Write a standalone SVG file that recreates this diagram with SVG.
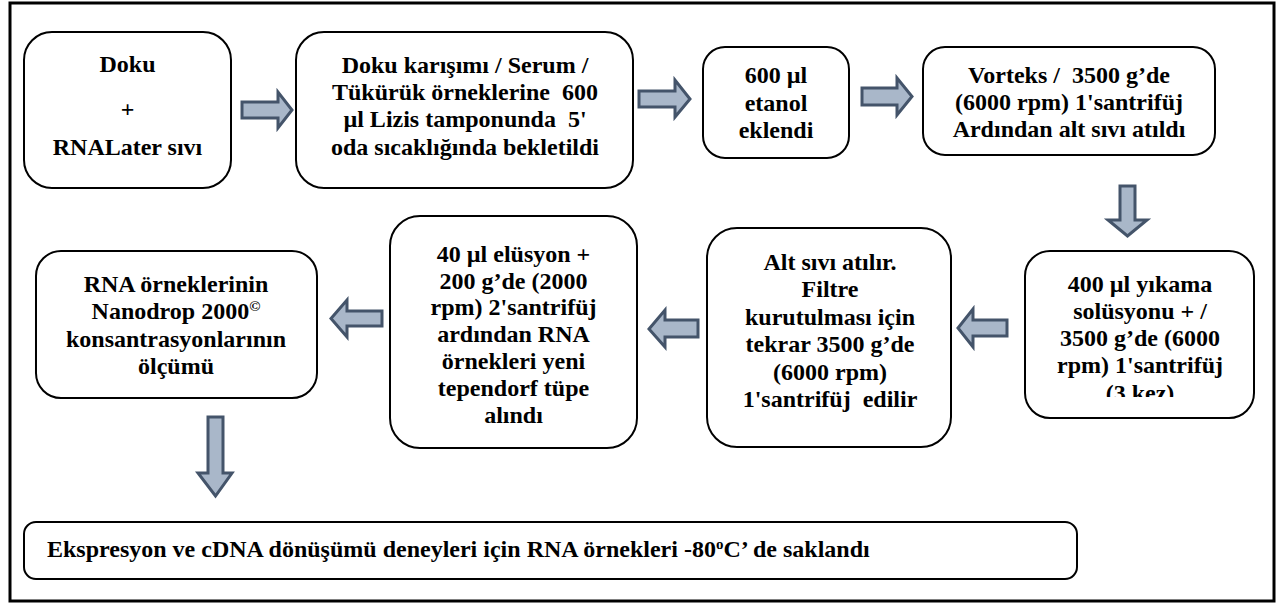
<svg xmlns="http://www.w3.org/2000/svg" width="1279" height="606" viewBox="0 0 1279 606">
<style>
.box{fill:#fff;stroke:#000;stroke-width:2}
.arr{fill:#A9B7C9;stroke:#44546A;stroke-width:3;stroke-linejoin:miter}
text{font-family:'Liberation Serif',Tinos,'Times New Roman',Times,serif;font-weight:bold;font-size:24px;fill:#000;white-space:pre}
.c{text-anchor:middle}
</style>
<defs>
<clipPath id="clip5"><rect x="1025" y="251" width="229" height="146"/></clipPath>
</defs>
<rect x="10" y="3" width="1264" height="598" fill="#fff" stroke="#000" stroke-width="3"/>
<g id="connectors">
<polygon class="arr" points="242,102 278,102 278,92 292,110 278,128 278,118 242,118"/>
<polygon class="arr" points="639,91 675,91 675,80 690,99 675,117 675,107 639,107"/>
<polygon class="arr" points="862,88 897,88 897,78 912,96.5 897,115 897,105 862,105"/>
<polygon class="arr" points="1120,186 1135,186 1135,220 1147,220 1127.5,236 1108,220 1120,220"/>
<polygon class="arr" points="1007,320 973,320 973,309 958,328 973,347 973,336 1007,336"/>
<polygon class="arr" points="698,320 665,320 665,310 649,329 665,347 665,337 698,337"/>
<polygon class="arr" points="382,311 347,311 347,300 331,318.5 347,337 347,326 382,326"/>
<polygon class="arr" points="208,417 223,417 223,473 232,473 215.5,496 198,473 208,473"/>
</g>
<g id="n1">
<rect class="box" x="24" y="32" width="207" height="156" rx="28"/>
<text class="c" x="127.5" y="72">Doku</text>
<text class="c" x="127.5" y="117" font-weight="normal">+</text>
<text class="c" x="127.5" y="155">RNALater sıvı</text>
</g>
<g id="n2">
<rect class="box" x="296" y="32" width="337" height="156" rx="28"/>
<text class="c" x="465" y="73">Doku karışımı / Serum /</text>
<text class="c" x="465" y="100">Tükürük örneklerine  600</text>
<text class="c" x="465" y="127">µl Lizis tamponunda  5'</text>
<text class="c" x="465" y="155">oda sıcaklığında bekletildi</text>
</g>
<g id="n3">
<rect class="box" x="703" y="47" width="146" height="111" rx="22"/>
<text class="c" x="776" y="83">600 µl</text>
<text class="c" x="776" y="111">etanol</text>
<text class="c" x="776" y="138">eklendi</text>
</g>
<g id="n4">
<rect class="box" x="923" y="47" width="292" height="108" rx="22"/>
<text class="c" x="1069" y="83">Vorteks /  3500 g’de</text>
<text class="c" x="1069" y="110">(6000 rpm) 1'santrifüj</text>
<text class="c" x="1069" y="137">Ardından alt sıvı atıldı</text>
</g>
<g id="n5">
<rect class="box" x="1025" y="251" width="229" height="167" rx="25"/>
<g clip-path="url(#clip5)">
<text class="c" x="1140" y="292">400 µl yıkama</text>
<text class="c" x="1140" y="319">solüsyonu + /</text>
<text class="c" x="1140" y="346">3500 g’de (6000</text>
<text class="c" x="1140" y="373">rpm) 1'santrifüj</text>
<text class="c" x="1140" y="401">(3 kez)</text>
</g>
</g>
<g id="n6">
<rect class="box" x="707" y="228" width="244" height="219" rx="30"/>
<text class="c" x="830" y="270">Alt sıvı atılır.</text>
<text class="c" x="830" y="297">Filtre</text>
<text class="c" x="830" y="325">kurutulması için</text>
<text class="c" x="830" y="352">tekrar 3500 g’de</text>
<text class="c" x="830" y="380">(6000 rpm)</text>
<text class="c" x="830" y="407">1'santrifüj  edilir</text>
</g>
<g id="n7">
<rect class="box" x="390" y="216" width="247" height="232" rx="30"/>
<text class="c" x="513.5" y="262">40 µl elüsyon +</text>
<text class="c" x="513.5" y="289">200 g’de (2000</text>
<text class="c" x="513.5" y="315">rpm) 2'santrifüj</text>
<text class="c" x="513.5" y="342">ardından RNA</text>
<text class="c" x="513.5" y="369">örnekleri yeni</text>
<text class="c" x="513.5" y="396">tependorf tüpe</text>
<text class="c" x="513.5" y="423">alındı</text>
</g>
<g id="n8">
<rect class="box" x="36" y="251" width="281" height="147" rx="25"/>
<text class="c" x="176" y="292">RNA örneklerinin</text>
<text class="c" x="176" y="319">Nanodrop 2000<tspan font-size="15" dy="-8">©</tspan></text>
<text class="c" x="176" y="347">konsantrasyonlarının</text>
<text class="c" x="176" y="374">ölçümü</text>
</g>
<g id="n9">
<rect class="box" x="24" y="522" width="1053" height="57" rx="12"/>
<text x="47" y="557">Ekspresyon ve cDNA dönüşümü deneyleri için RNA örnekleri -80<tspan font-size="15" dy="-8">o</tspan><tspan dy="8">C’ de saklandı</tspan></text>
</g>
</svg>
